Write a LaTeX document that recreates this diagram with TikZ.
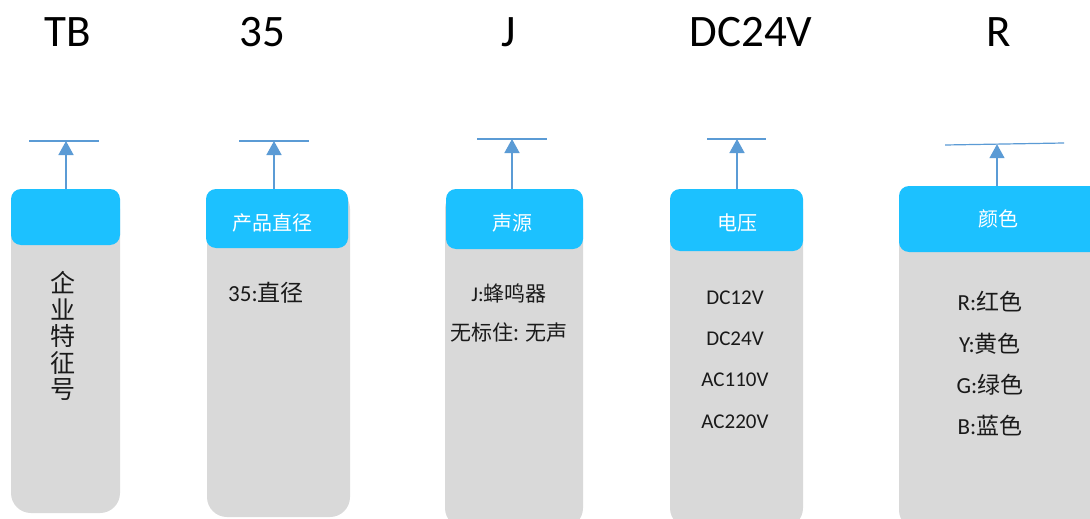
\documentclass[tikz,border=0pt]{standalone}
\usepackage{fontspec}
\setmainfont{Carlito}
\newfontfamily\cjk{Noto Sans CJK SC}
\usetikzlibrary{arrows.meta}
\definecolor{hdrblue}{HTML}{1CC1FF}
\definecolor{bodygray}{HTML}{D9D9D9}
\definecolor{arrblue}{HTML}{5B9BD5}
\definecolor{txt}{HTML}{1A1A1A}
\tikzset{
  hdr/.style={fill=hdrblue, rounded corners=10pt, inner sep=0pt, text=white,
    font=\cjk\fontsize{20}{24}\selectfont},
  body/.style={fill=bodygray, rounded corners=20pt, inner sep=0pt},
  code/.style={inner sep=0pt, font=\fontsize{45}{50}\selectfont, text=black},
  item/.style={inner sep=0pt, text=txt, font=\fontsize{21}{25}\selectfont},
  big/.style={inner sep=0pt, text=txt, font=\fontsize{23}{27}\selectfont},
  cn/.style={inner sep=0pt, text=txt, font=\cjk\fontsize{21}{25}\selectfont},
  bar/.style={draw=arrblue, line width=1.2pt},
  up/.style={draw=arrblue, line width=1.5pt, -{Triangle[width=15pt,length=14pt]}}
}
\begin{document}
\begin{tikzpicture}[x=1pt,y=-1pt]
\useasboundingbox (0,0) rectangle (1090,519);
\clip (0,0) rectangle (1090,519);
\fill[white] (0,0) rectangle (1090,519);
% top codes
\node[code, anchor=base] (c1) at (68,47) {TB};
\node[code, anchor=base] (c2) at (262,47) {35};
\node[code, anchor=base] (c3) at (509,47) {J};
\node[code, anchor=base] (c4) at (751,47) {DC24V};
\node[code, anchor=base] (c5) at (999,47) {R};
% bodies
\node[body, minimum width=109pt, minimum height=324pt] (b1) at (65.5,351) {};
\node[body, minimum width=143pt, minimum height=328pt] (b2) at (278.5,353) {};
\node[body, minimum width=138pt, minimum height=339pt] (b3) at (514,358.5) {};
\node[body, minimum width=133pt, minimum height=339pt] (b4) at (736.5,358.5) {};
\node[body, minimum width=201pt, minimum height=344pt] (b5) at (999.5,358) {};
% headers
\node[hdr, minimum width=109pt, minimum height=56pt] (h1) at (65.5,217) {};
\node[hdr, minimum width=142pt, minimum height=59pt] (h2) at (277,218.5) {};
\node[hdr, minimum width=137pt, minimum height=60pt] (h3) at (514.5,219) {};
\node[hdr, minimum width=133pt, minimum height=62pt] (h4) at (736.5,220) {};
\node[hdr, minimum width=201pt, minimum height=66pt] (h5) at (999.5,219) {};
\node[hdr, fill=none] (l2) at (272,223) {产品直径};
\node[hdr, fill=none] (l3) at (512,223) {声源};
\node[hdr, fill=none] (l4) at (737,223) {电压};
\node[hdr, fill=none] (l5) at (998,219) {颜色};
% top bars
\coordinate (a1) at (29,141); \coordinate (z1) at (99,141); \coordinate (t1) at (66,141);
\coordinate (a2) at (239,141); \coordinate (z2) at (309,141); \coordinate (t2) at (274,141);
\coordinate (a3) at (477,139); \coordinate (z3) at (547,139); \coordinate (t3) at (512,139);
\coordinate (a4) at (707,139); \coordinate (z4) at (766,139); \coordinate (t4) at (737,139);
\coordinate (a5) at (945,145); \coordinate (z5) at (1064,143); \coordinate (t5) at (997,144.2);
\foreach \i in {1,...,5}{
  \draw[bar] (a\i) -- (z\i);
  \draw[up] (t\i |- h\i.north) -- (t\i);
}
% body texts
\node[cn, font=\cjk\fontsize{25}{26.5}\selectfont, align=center] (v1) at (63,336) {企\\业\\特\\征\\号};
\node[big, anchor=west] (s2) at (228,293) {35:{\cjk 直径}};
\node[item] (s3a) at (509,293) {J:{\cjk 蜂鸣器}};
\node[cn] (s3b) at (509,333) {无标住: 无声};
\node[item] (s4a) at (735,298) {DC12V};
\node[item] (s4b) at (735,339) {DC24V};
\node[item] (s4c) at (735,380) {AC110V};
\node[item] (s4d) at (735,422) {AC220V};
\node[big] (s5a) at (990,302) {R:{\cjk 红色}};
\node[big] (s5b) at (990,344) {Y:{\cjk 黄色}};
\node[big] (s5c) at (990,385) {G:{\cjk 绿色}};
\node[big] (s5d) at (990,426) {B:{\cjk 蓝色}};
\end{tikzpicture}
\end{document}
